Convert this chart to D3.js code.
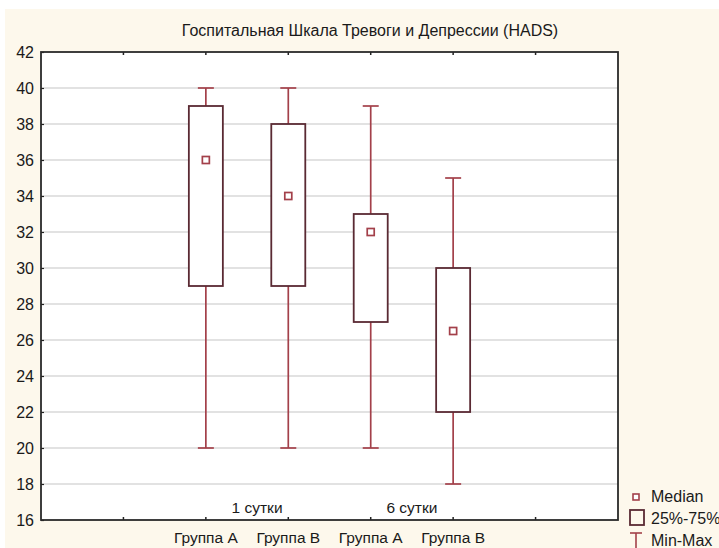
<!DOCTYPE html>
<html>
<head>
<meta charset="utf-8">
<script src="https://cdn.jsdelivr.net/npm/d3@7"></script>
<style>
  html, body { margin: 0; padding: 0; background: #fff; }
  svg { display: block; font-family: "Liberation Sans", Arial, sans-serif; }
</style>
</head>
<body>
<div id="chart"></div>
<script>
const title = "Госпитальная Шкала Тревоги и Депрессии (HADS)";
const groups = ["Группа A", "Группа B", "Группа A", "Группа B"];
const days = ["1 сутки", "6 сутки"];
const mins = [20, 20, 20, 18];
const q1s = [29, 29, 27, 22];
const medians = [36, 34, 32, 26.5];
const q3s = [39, 38, 33, 30];
const maxs = [40, 40, 39, 35];
const yTicks = d3.range(16, 43, 2);

const width = 719, height = 548;
const plot = { left: 41, top: 52, right: 618, bottom: 520 };

const boxColor = "#5a2a33";
const whiskerColor = "#a3404a";
const textColor = "#1a1a1a";

const svg = d3.select("#chart").append("svg")
  .attr("width", width)
  .attr("height", height);

svg.append("rect")
  .attr("x", 5).attr("y", 9)
  .attr("width", width - 5).attr("height", height - 9)
  .attr("fill", "#fdf8ec");

const x = d3.scaleLinear().domain([0, 7]).range([plot.left, plot.right]);
const y = d3.scaleLinear().domain([16, 42]).range([plot.bottom, plot.top]);

svg.append("rect")
  .attr("x", plot.left).attr("y", plot.top)
  .attr("width", plot.right - plot.left).attr("height", plot.bottom - plot.top)
  .attr("fill", "#fff");

// grid
svg.append("g")
  .selectAll("line")
  .data(yTicks.filter(d => d > 16 && d < 42))
  .join("line")
  .attr("x1", plot.left).attr("x2", plot.right)
  .attr("y1", d => y(d)).attr("y2", d => y(d))
  .attr("stroke", "#d9d9d9")
  .attr("stroke-width", 1.6);

// y axis
const yAxis = svg.append("g")
  .attr("transform", `translate(${plot.left},0)`)
  .call(d3.axisLeft(y).tickValues(yTicks).tickSize(-3).tickPadding(7));
yAxis.select(".domain").remove();
yAxis.selectAll(".tick line").attr("stroke", "#222").attr("stroke-width", 1.2);
yAxis.selectAll("text")
  .attr("font-size", 16)
  .attr("fill", textColor);

// top & bottom ticks
const xTickVals = d3.range(1, 7);
svg.append("g")
  .selectAll("line")
  .data(xTickVals)
  .join("line")
  .attr("x1", d => x(d)).attr("x2", d => x(d))
  .attr("y1", plot.top).attr("y2", plot.top + 3)
  .attr("stroke", "#222").attr("stroke-width", 1.5);
svg.append("g")
  .selectAll("line")
  .data(xTickVals)
  .join("line")
  .attr("x1", d => x(d)).attr("x2", d => x(d))
  .attr("y1", plot.bottom).attr("y2", plot.bottom - 3)
  .attr("stroke", "#222").attr("stroke-width", 1.5);

// frame
svg.append("rect")
  .attr("x", plot.left).attr("y", plot.top)
  .attr("width", plot.right - plot.left).attr("height", plot.bottom - plot.top)
  .attr("fill", "none")
  .attr("stroke", "#2a2a2a")
  .attr("stroke-width", 1.8);

// boxes
const boxHalf = 17, capHalf = 8;
const boxes = svg.append("g")
  .selectAll("g")
  .data(groups.map((g, i) => ({ g, i, pos: i + 2 })))
  .join("g");

boxes.append("line")
  .attr("x1", d => x(d.pos)).attr("x2", d => x(d.pos))
  .attr("y1", d => y(maxs[d.i])).attr("y2", d => y(q3s[d.i]))
  .attr("stroke", whiskerColor).attr("stroke-width", 1.7);
boxes.append("line")
  .attr("x1", d => x(d.pos)).attr("x2", d => x(d.pos))
  .attr("y1", d => y(q1s[d.i])).attr("y2", d => y(mins[d.i]))
  .attr("stroke", whiskerColor).attr("stroke-width", 1.7);
boxes.append("line")
  .attr("x1", d => x(d.pos) - capHalf).attr("x2", d => x(d.pos) + capHalf)
  .attr("y1", d => y(maxs[d.i])).attr("y2", d => y(maxs[d.i]))
  .attr("stroke", whiskerColor).attr("stroke-width", 1.7);
boxes.append("line")
  .attr("x1", d => x(d.pos) - capHalf).attr("x2", d => x(d.pos) + capHalf)
  .attr("y1", d => y(mins[d.i])).attr("y2", d => y(mins[d.i]))
  .attr("stroke", whiskerColor).attr("stroke-width", 1.7);
boxes.append("rect")
  .attr("x", d => x(d.pos) - boxHalf)
  .attr("y", d => y(q3s[d.i]))
  .attr("width", boxHalf * 2)
  .attr("height", d => y(q1s[d.i]) - y(q3s[d.i]))
  .attr("fill", "#fff")
  .attr("stroke", boxColor).attr("stroke-width", 1.8);
boxes.append("rect")
  .attr("x", d => x(d.pos) - 3.5)
  .attr("y", d => y(medians[d.i]) - 3.5)
  .attr("width", 7).attr("height", 7)
  .attr("fill", "#fff")
  .attr("stroke", whiskerColor).attr("stroke-width", 1.7);

// group labels
svg.append("g")
  .selectAll("text")
  .data(groups)
  .join("text")
  .attr("x", (d, i) => x(i + 2))
  .attr("y", 543)
  .attr("text-anchor", "middle")
  .attr("font-size", 15.5)
  .attr("fill", textColor)
  .text(d => d);

svg.append("g")
  .selectAll("text")
  .data(days)
  .join("text")
  .attr("x", (d, i) => x(2.5 + i * 2) + (i === 0 ? 10 : 0))
  .attr("y", 513)
  .attr("text-anchor", "middle")
  .attr("font-size", 15.5)
  .attr("fill", textColor)
  .text(d => d);

// title
svg.append("text")
  .attr("x", 370).attr("y", 36)
  .attr("text-anchor", "middle")
  .attr("font-size", 16)
  .attr("fill", textColor)
  .text(title);

// legend
const lg = svg.append("g").attr("transform", "translate(636,0)");
lg.append("rect")
  .attr("x", -3).attr("y", 494).attr("width", 6).attr("height", 6)
  .attr("fill", "#fff").attr("stroke", whiskerColor).attr("stroke-width", 1.6);
lg.append("rect")
  .attr("x", -6).attr("y", 510).attr("width", 14).attr("height", 15)
  .attr("fill", "none").attr("stroke", boxColor).attr("stroke-width", 1.8);
lg.append("line")
  .attr("x1", -6).attr("x2", 6).attr("y1", 533).attr("y2", 533)
  .attr("stroke", whiskerColor).attr("stroke-width", 1.6);
lg.append("line")
  .attr("x1", 0).attr("x2", 0).attr("y1", 533).attr("y2", 548)
  .attr("stroke", whiskerColor).attr("stroke-width", 1.6);
lg.selectAll("text.lab")
  .data(["Median", "25%-75%", "Min-Max"])
  .join("text")
  .attr("class", "lab")
  .attr("x", 15)
  .attr("y", (d, i) => 502 + i * 22)
  .attr("font-size", 16)
  .attr("fill", textColor)
  .text(d => d);
</script>
</body>
</html>
